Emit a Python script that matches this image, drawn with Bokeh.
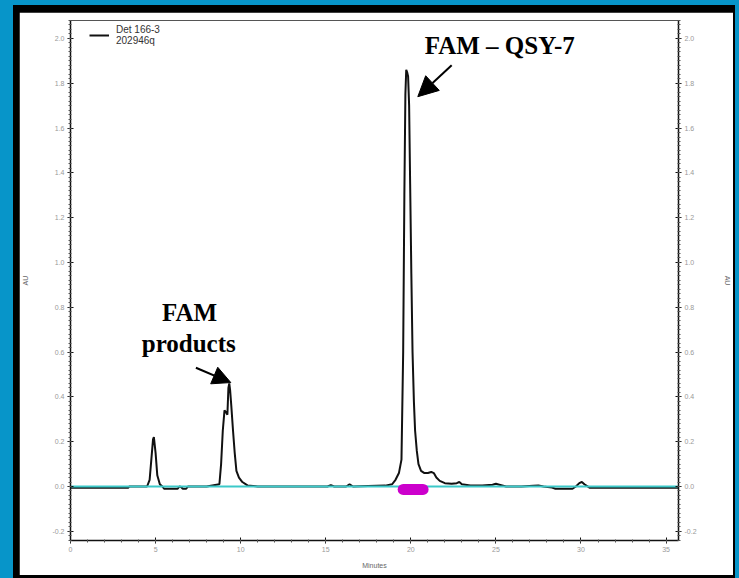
import numpy as np
from bokeh.plotting import figure
from bokeh.models import (LinearAxis, FixedTicker, PrintfTickFormatter, Range1d, Label,
                          Arrow, NormalHead, Legend, LegendItem, ColumnDataSource)
from bokeh.layouts import column
from bokeh.embed import file_html
from bokeh.resources import INLINE

# ---------------- data ----------------
time_min = [0.0, 3.4, 3.45, 4.5, 4.65, 4.75, 4.85, 4.9, 5.0, 5.1, 5.25, 5.4, 5.5, 6.3, 6.4,
            6.5, 6.6, 6.8, 6.9, 8.0, 8.75, 8.85, 8.95, 9.05, 9.15, 9.22, 9.28, 9.33, 9.38,
            9.45, 9.55, 9.65, 9.75, 9.9, 10.1, 10.4, 11.0, 12.0, 13.0, 14.0, 15.1, 15.3,
            15.5, 16.2, 16.4, 16.6, 17.5, 18.5, 18.9, 19.1, 19.3, 19.45, 19.55, 19.62,
            19.68, 19.73, 19.78, 19.84, 19.9, 19.96, 20.03, 20.1, 20.18, 20.25, 20.35,
            20.45, 20.6, 20.8, 21.0, 21.2, 21.35, 21.5, 21.7, 22.0, 22.4, 22.7, 22.85,
            23.0, 23.5, 24.2, 24.8, 25.0, 25.2, 25.6, 26.5, 27.2, 27.5, 27.8, 28.3, 28.5,
            29.5, 29.7, 29.9, 30.05, 30.2, 30.5, 35.7]
absorb_au = [-0.005, -0.005, 0.0, 0.0, 0.03, 0.12, 0.21, 0.22, 0.15, 0.05, 0.01, 0.0, -0.01,
             -0.01, 0.0, -0.002, -0.01, -0.01, 0.0, 0.0, 0.01, 0.1, 0.25, 0.34, 0.33, 0.32,
             0.44, 0.46, 0.43, 0.36, 0.25, 0.15, 0.07, 0.04, 0.02, 0.005, 0.0, 0.0, 0.0,
             0.0, 0.0, 0.006, 0.0, 0.0, 0.01, 0.0, 0.002, 0.004, 0.01, 0.03, 0.06, 0.12,
             0.6, 1.3, 1.75, 1.86, 1.85, 1.83, 1.7, 1.35, 0.95, 0.6, 0.38, 0.25, 0.16, 0.1,
             0.07, 0.06, 0.06, 0.065, 0.06, 0.04, 0.025, 0.015, 0.012, 0.015, 0.02, 0.01,
             0.005, 0.004, 0.008, 0.012, 0.008, 0.0, 0.0, 0.003, 0.004, 0.0, -0.005, -0.01,
             -0.01, 0.0, 0.015, 0.02, 0.01, -0.005, -0.005]
baseline_t = [0.0, 35.73]
baseline_v = [0.0, 0.0]
fraction_t = [19.55, 20.72]     # collected fraction (magenta bar)
fraction_v = [-0.013, -0.013]
y_ticks = [-0.2, 0.0, 0.2, 0.4, 0.6, 0.8, 1.0, 1.2, 1.4, 1.6, 1.8, 2.0]
x_ticks = [0, 5, 10, 15, 20, 25, 30, 35]
legend_label = "Det 166-3\n202946q"

# ---------------- figure ----------------
p = figure(width=714, height=563, x_range=Range1d(0, 35.73), y_range=Range1d(-0.241, 2.08),
           min_border_left=50, min_border_right=53, min_border_top=8, min_border_bottom=35,
           output_backend="svg", toolbar_location=None)
p.xgrid.visible = False
p.ygrid.visible = False
p.background_fill_color = "white"
p.border_fill_color = "white"
p.outline_line_color = "#555555"
p.outline_line_width = 1

y_minor = list(np.round(np.arange(-0.24, 2.081, 0.02), 3))
x_minor = list(np.arange(0, 36, 1))

def style_axis(ax):
    ax.axis_line_color = "#111111"
    ax.axis_line_width = 1.5
    ax.major_tick_line_color = "#111111"
    ax.major_tick_in = 3
    ax.major_tick_out = 3
    ax.minor_tick_line_color = "#555555"
    ax.minor_tick_in = 1
    ax.minor_tick_out = 2
    ax.major_label_text_font = "Liberation Sans"
    ax.major_label_text_font_size = "7px"
    ax.major_label_text_color = "#999999"
    ax.major_label_standoff = 3
    ax.axis_label_text_font = "Liberation Sans"
    ax.axis_label_text_font_size = "7px"
    ax.axis_label_text_font_style = "normal"
    ax.axis_label_text_color = "#666666"

p.yaxis.ticker = FixedTicker(ticks=y_ticks, minor_ticks=y_minor)
p.yaxis.formatter = PrintfTickFormatter(format="%.1f")
p.yaxis.axis_label = "AU"
p.yaxis.axis_label_standoff = 20
p.xaxis.ticker = FixedTicker(ticks=x_ticks, minor_ticks=x_minor)
p.xaxis.axis_label = "Minutes"
p.xaxis.axis_label_standoff = 7
style_axis(p.yaxis[0])
style_axis(p.xaxis[0])

ry = LinearAxis(ticker=FixedTicker(ticks=y_ticks, minor_ticks=y_minor),
                formatter=PrintfTickFormatter(format="%.1f"), axis_label="AU",
                axis_label_standoff=24)
style_axis(ry)
p.add_layout(ry, "right")

# ---------------- glyphs ----------------
src = ColumnDataSource(dict(t=time_min, v=absorb_au))
trace = p.line("t", "v", source=src, line_color="#111111", line_width=2)
p.line(baseline_t, baseline_v, line_color="#3cc9c9", line_width=2)
p.line(fraction_t, fraction_v, line_color="#cc00cc", line_width=11, line_cap="round")

# ---------------- annotations ----------------
p.add_layout(Label(x=20.82, y=1.968, text="FAM \u2013 QSY-7", text_font="Liberation Serif",
                   text_font_style="bold", text_font_size="25px", text_color="black",
                   text_baseline="alphabetic", text_align="left"))
p.add_layout(Label(x=7.0, y=0.775, text="FAM", text_font="Liberation Serif",
                   text_font_style="bold", text_font_size="25px", text_color="black",
                   text_baseline="alphabetic", text_align="center"))
p.add_layout(Label(x=6.95, y=0.637, text="products", text_font="Liberation Serif",
                   text_font_style="bold", text_font_size="25px", text_color="black",
                   text_baseline="alphabetic", text_align="center"))
p.add_layout(Arrow(end=NormalHead(size=20, fill_color="black", line_color="black"),
                   x_start=22.4, y_start=1.88, x_end=20.41, y_end=1.74,
                   line_color="black", line_width=2))
p.add_layout(Arrow(end=NormalHead(size=18, fill_color="black", line_color="black"),
                   x_start=7.37, y_start=0.53, x_end=9.42, y_end=0.464,
                   line_color="black", line_width=2))

legend = Legend(items=[LegendItem(label=legend_label, renderers=[trace])],
                location=(19, 493), padding=0, margin=0, border_line_alpha=0,
                background_fill_alpha=0, glyph_width=20, glyph_height=24,
                label_standoff=7, label_text_font="Liberation Sans",
                label_text_font_size="10px", label_text_color="#333333",
                label_text_line_height=1.1)
p.add_layout(legend)

inner = column(p, styles={"background-color": "#000000", "padding": "7px 2px 3px 6px"})
outer = column(inner, styles={"background-color": "#0795c9", "padding": "5px 4px 0px 13px"})

open("out.html", "w").write(file_html(outer, INLINE))
